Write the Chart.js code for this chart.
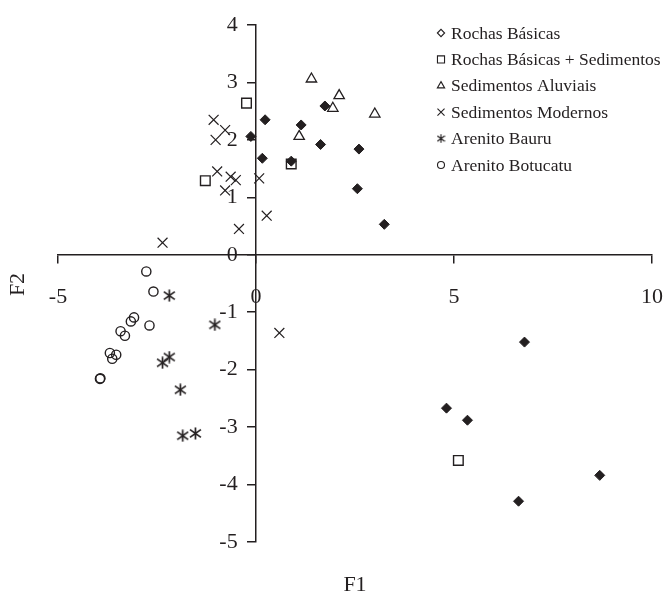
<!DOCTYPE html>
<html>
<head>
<meta charset="utf-8">
<script src="https://cdn.jsdelivr.net/npm/chart.js@4/dist/chart.umd.min.js"></script>
<style>
  html, body { margin: 0; padding: 0; background: #fff; }
  #wrap { width: 665px; height: 595px; position: relative; }
</style>
</head>
<body>
<div id="wrap"><canvas id="chart_f1f2"></canvas></div>
<script>
// F1 x F2 scores per group
var rochasBasicas = [
  [0.23, 2.35], [-0.13, 2.06], [0.16, 1.68], [0.89, 1.63], [1.14, 2.26],
  [1.74, 2.59], [1.63, 1.92], [2.60, 1.84], [2.56, 1.15], [3.24, 0.53],
  [6.78, -1.52], [4.81, -2.67], [5.34, -2.88], [8.68, -3.84], [6.63, -4.29]
];
var rochasBasicasSed = [
  [-0.24, 2.64], [-1.28, 1.29], [0.89, 1.58], [5.11, -3.58]
];
var sedAluviais = [
  [1.40, 3.06], [2.10, 2.77], [1.94, 2.55], [1.09, 2.06], [3.00, 2.45]
];
var sedModernos = [
  [-1.07, 2.35], [-0.78, 2.17], [-1.02, 2.00], [-0.98, 1.45], [-0.64, 1.36],
  [-0.51, 1.30], [-0.78, 1.12], [0.08, 1.33], [0.27, 0.68], [-0.43, 0.45],
  [-2.36, 0.21], [0.59, -1.36]
];
var arenitoBauru = [
  [-2.19, -0.71], [-1.04, -1.22], [-2.19, -1.78], [-2.36, -1.88],
  [-1.91, -2.35], [-1.85, -3.15], [-1.53, -3.11]
];
var arenitoBotucatu = [
  [-2.77, -0.29], [-2.59, -0.64], [-2.69, -1.23], [-3.08, -1.09], [-3.16, -1.16],
  [-3.42, -1.33], [-3.31, -1.41], [-3.69, -1.71], [-3.53, -1.74], [-3.63, -1.81],
  [-3.94, -2.16], [-3.93, -2.15]
];
var seriesLabels = [
  'Rochas Básicas', 'Rochas Básicas + Sedimentos', 'Sedimentos Aluviais',
  'Sedimentos Modernos', 'Arenito Bauru', 'Arenito Botucatu'
];
var xTicks = [-5, 0, 5, 10];
var yTicks = [-5, -4, -3, -2, -1, 0, 1, 2, 3, 4];
var xTitle = 'F1';
var yTitle = 'F2';

var ink = '#231f20';
var serif = "'Liberation Serif', 'Times New Roman', serif";

function toPoints(arr) {
  return arr.map(function (p) { return { x: p[0], y: p[1] }; });
}

// asterisk marker: an x with a vertical bar
function makeAsterisk(size, lw) {
  var c = document.createElement('canvas');
  c.width = size; c.height = size;
  var g = c.getContext('2d');
  g.strokeStyle = ink;
  g.lineWidth = lw;
  var m = size / 2, a = size * 0.42, b = size * 0.3;
  g.beginPath();
  g.moveTo(m - a, m - b); g.lineTo(m + a, m + b);
  g.moveTo(m + a, m - b); g.lineTo(m - a, m + b);
  g.moveTo(m, m - a - 0.5); g.lineTo(m, m + a + 0.5);
  g.stroke();
  return c;
}
var asteriskBig = makeAsterisk(13, 1.7);
var asteriskSmall = makeAsterisk(9, 1.2);

var datasets = [
  { label: seriesLabels[0], data: toPoints(rochasBasicas), pointStyle: 'rectRot', pointRadius: 5,
    backgroundColor: ink, borderColor: ink, borderWidth: 1, legendStyle: 'rectRot', legendRadius: 3.6 },
  { label: seriesLabels[1], data: toPoints(rochasBasicasSed), pointStyle: 'rect', pointRadius: 6.8,
    backgroundColor: 'rgba(255,255,255,0)', borderColor: ink, borderWidth: 1.4, legendStyle: 'rect', legendRadius: 5 },
  { label: seriesLabels[2], data: toPoints(sedAluviais), pointStyle: 'triangle', pointRadius: 6,
    backgroundColor: 'rgba(255,255,255,0)', borderColor: ink, borderWidth: 1.3, legendStyle: 'triangle', legendRadius: 4.2 },
  { label: seriesLabels[3], data: toPoints(sedModernos), pointStyle: 'crossRot', pointRadius: 7,
    backgroundColor: ink, borderColor: ink, borderWidth: 1.2, legendStyle: 'crossRot', legendRadius: 5 },
  { label: seriesLabels[4], data: toPoints(arenitoBauru), pointStyle: asteriskBig, pointRadius: 6,
    backgroundColor: ink, borderColor: ink, borderWidth: 1.2, legendStyle: asteriskSmall, legendRadius: 4 },
  { label: seriesLabels[5], data: toPoints(arenitoBotucatu), pointStyle: 'circle', pointRadius: 4.6,
    backgroundColor: 'rgba(255,255,255,0)', borderColor: ink, borderWidth: 1.4, legendStyle: 'circle', legendRadius: 3.5 }
];

var chart_f1f2 = new Chart(document.getElementById('chart_f1f2'), {
  type: 'scatter',
  data: { datasets: datasets },
  options: {
    animation: false,
    responsive: true,
    maintainAspectRatio: false,
    layout: { padding: { left: 58, right: 13, top: 25, bottom: 53 } },
    plugins: {
      legend: { display: false },
      tooltip: { enabled: false }
    },
    elements: { point: { hoverRadius: 5 } },
    scales: {
      x: {
        type: 'linear',
        position: { y: 0 },
        min: -5,
        max: 10,
        afterBuildTicks: function (axis) {
          axis.ticks = xTicks.map(function (v) { return { value: v }; });
        },
        // the label padding would otherwise shrink the plot width
        afterFit: function (axis) {
          axis.paddingLeft = 0;
          axis.paddingRight = 0;
        },
        grid: { drawOnChartArea: false, drawTicks: true, tickLength: 8, color: ink, lineWidth: 1.5 },
        border: { display: true, color: ink, width: 1.5 },
        ticks: { color: ink, padding: 21, font: { family: serif, size: 22 }, maxRotation: 0 }
      },
      y: {
        type: 'linear',
        position: { x: 0 },
        min: -5,
        max: 4,
        afterBuildTicks: function (axis) {
          axis.ticks = yTicks.map(function (v) { return { value: v }; });
        },
        grid: { drawOnChartArea: false, drawTicks: true, tickLength: 8, color: ink, lineWidth: 1.5 },
        border: { display: true, color: ink, width: 1.5 },
        ticks: {
          color: ink,
          font: { family: serif, size: 22 },
          // labels are right-aligned on the axis line itself; trailing spaces push them left of the ticks
          callback: function (value) { return value + '\u2002\u2005\u200A'; }
        }
      }
    }
  },
  plugins: [{
    id: 'titlesAndLegend',
    beforeDraw: function (chart) {
      var ctx = chart.ctx;
      ctx.save();
      ctx.fillStyle = 'white';
      ctx.fillRect(0, 0, chart.width, chart.height);
      ctx.restore();
    },
    afterDraw: function (chart) {
      var ctx = chart.ctx;
      var area = chart.chartArea;
      ctx.save();
      ctx.fillStyle = ink;
      ctx.font = '22px ' + serif;
      ctx.textAlign = 'center';
      ctx.textBaseline = 'middle';
      ctx.fillText(xTitle, (area.left + area.right) / 2, 585);
      ctx.translate(18, (area.top + area.bottom) / 2 + 1);
      ctx.rotate(-Math.PI / 2);
      ctx.fillText(yTitle, 0, 0);
      ctx.restore();

      // legend, top right, over the plot area
      ctx.save();
      ctx.font = '17.5px ' + serif;
      ctx.textAlign = 'left';
      ctx.textBaseline = 'middle';
      chart.data.datasets.forEach(function (ds, i) {
        var y = 33 + i * 26.4;
        ctx.fillStyle = 'rgba(255,255,255,0)';
        ctx.strokeStyle = ink;
        ctx.lineWidth = 1.1;
        Chart.helpers.drawPoint(ctx, { pointStyle: ds.legendStyle, radius: ds.legendRadius, rotation: 0, borderWidth: 1.1 }, 441, y);
        ctx.fillStyle = ink;
        ctx.fillText(ds.label, 451, y + 1);
      });
      ctx.restore();
    }
  }]
});
</script>
</body>
</html>
